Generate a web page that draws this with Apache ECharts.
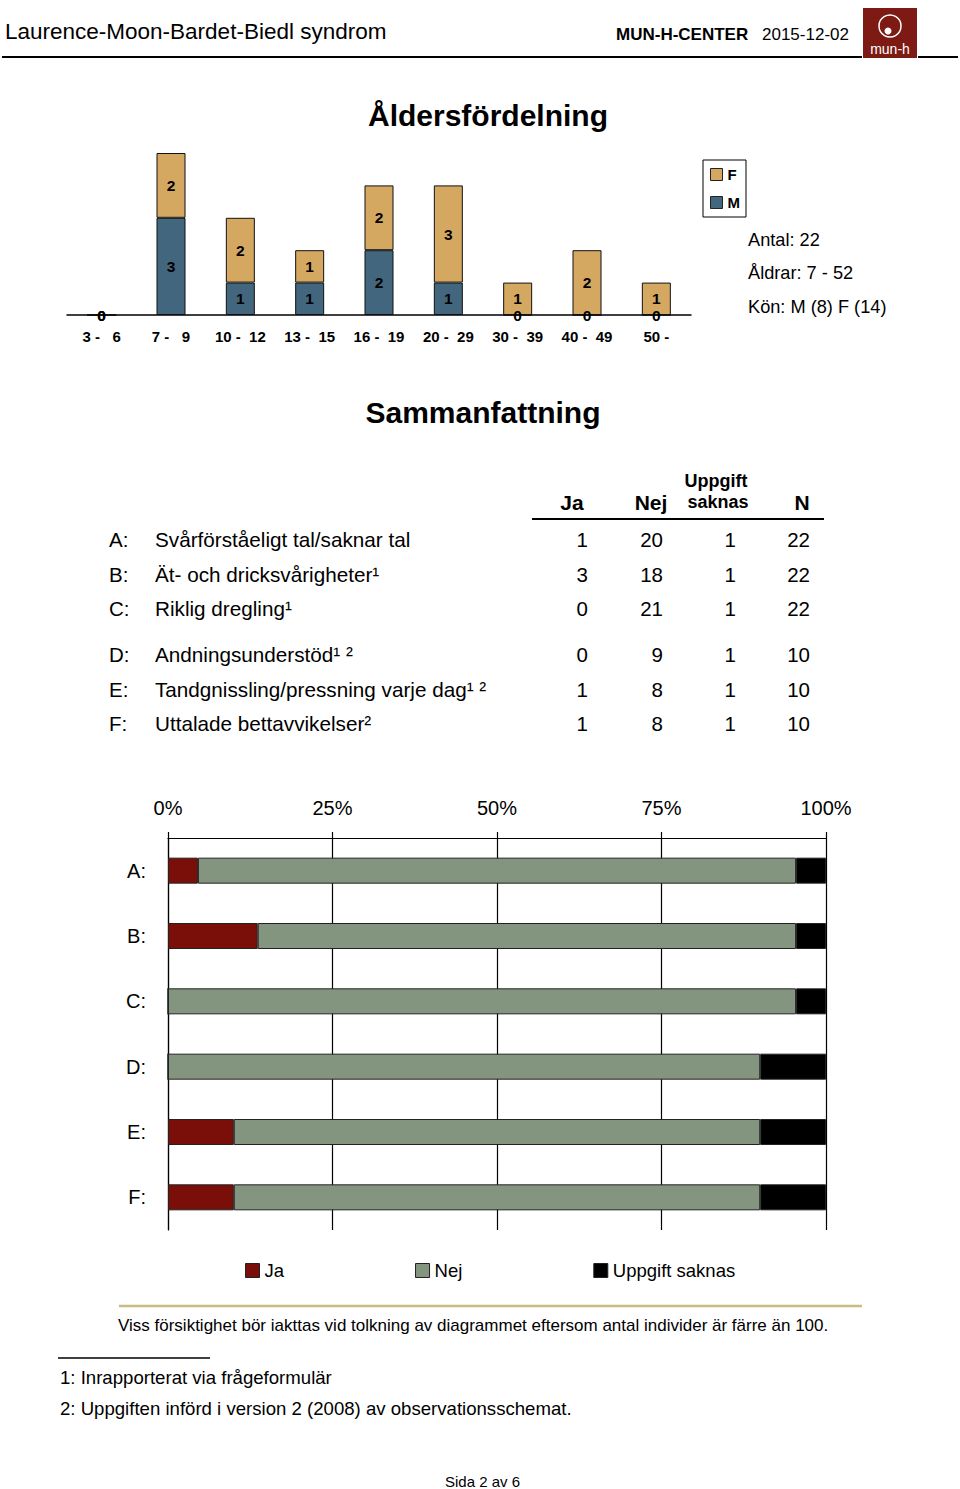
<!DOCTYPE html>
<html><head><meta charset="utf-8">
<script src="https://cdn.jsdelivr.net/npm/echarts@6/dist/echarts.min.js"></script>
<style>html,body{margin:0;padding:0;background:#fff;} #c{width:960px;height:1489px;}</style>
</head><body><div id="c"></div>
<script>
// ---- Data ----
const ageCategories = ['3 -   6','7 -   9','10 -  12','13 -  15','16 -  19','20 -  29','30 -  39','40 -  49','50 -'];
const maleCounts   = [0,3,1,1,2,1,0,0,0];
const femaleCounts = [0,2,2,1,2,3,1,2,1];
const ageInfo = ['Antal: 22','Åldrar: 7 - 52','Kön: M (8) F (14)'];

const rowLetters = ['A:','B:','C:','D:','E:','F:'];
const rowLabels = ['Svårförståeligt tal/saknar tal','Ät- och dricksvårigheter¹','Riklig dregling¹','Andningsunderstöd¹ ²','Tandgnissling/pressning varje dag¹ ²','Uttalade bettavvikelser²'];
const jaCounts     = [1,3,0,0,1,1];
const nejCounts    = [20,18,21,9,8,8];
const saknasCounts = [1,1,1,1,1,1];
const nCounts      = [22,22,22,10,10,10];
const seriesNames  = ['Ja','Nej','Uppgift saknas'];

const headerTitle = 'Laurence-Moon-Bardet-Biedl syndrom';
const footnotes = ['1: Inrapporterat via frågeformulär','2: Uppgiften införd i version 2 (2008) av observationsschemat.'];

// ---- Derived ----
const pct = (arr) => arr.map((v,i) => v / nCounts[i] * 100);
const FF = '"Liberation Sans", Arial, Helvetica, sans-serif';

const g = [];
function txt(x, y, text, size, opts) {
  opts = opts || {};
  g.push({type:'text', silent:true, style:{x:x, y:y, text:text, fill:opts.fill||'#000',
    font:(opts.bold?'bold ':'') + size + 'px ' + FF, textAlign:opts.align||'left', textVerticalAlign:'middle'}});
}
function line(x1,y1,x2,y2,w,c){
  g.push({type:'line', silent:true, shape:{x1:x1,y1:y1,x2:x2,y2:y2}, style:{stroke:c||'#000', lineWidth:w}});
}

// header
txt(5, 31, headerTitle, 22.5);
txt(616, 34, 'MUN-H-CENTER', 17, {bold:true});
txt(762, 34, '2015-12-02', 17);
line(2, 57, 862, 57, 2);
line(918, 57, 958, 57, 2);
g.push({type:'rect', silent:true, shape:{x:863,y:8,width:54,height:50}, style:{fill:'#7D1A14'}});
g.push({type:'circle', silent:true, shape:{cx:890,cy:26,r:11}, style:{fill:'none', stroke:'#fff', lineWidth:1.5}});
g.push({type:'circle', silent:true, shape:{cx:888,cy:31,r:3.5}, style:{fill:'#fff'}});
txt(890, 49, 'mun-h', 14, {fill:'#fff', align:'center'});

// titles
txt(488, 115, 'Åldersfördelning', 30, {bold:true, align:'center'});
txt(483, 412, 'Sammanfattning', 30, {bold:true, align:'center'});

// age info
const infoY = [240, 273, 307];
ageInfo.forEach((t,i) => txt(748, infoY[i], t, 18.2));

// table header
txt(572, 502, 'Ja', 21, {bold:true, align:'center'});
txt(651, 502, 'Nej', 21, {bold:true, align:'center'});
txt(716, 481, 'Uppgift', 18, {bold:true, align:'center'});
txt(718, 502, 'saknas', 18, {bold:true, align:'center'});
txt(802, 502, 'N', 21, {bold:true, align:'center'});
line(532, 519, 824, 519, 2);

const rowY = [539, 574, 608, 654, 689, 723];
rowLetters.forEach((l,i) => {
  txt(109, rowY[i], l, 20.5);
  txt(155, rowY[i], rowLabels[i], 20.7);
  txt(588, rowY[i], String(jaCounts[i]), 20.5, {align:'right'});
  txt(663, rowY[i], String(nejCounts[i]), 20.5, {align:'right'});
  txt(736, rowY[i], String(saknasCounts[i]), 20.5, {align:'right'});
  txt(810, rowY[i], String(nCounts[i]), 20.5, {align:'right'});
});

// notes
line(119, 1306, 862, 1306, 2.5, '#C9BC83');
txt(118, 1325, 'Viss försiktighet bör iakttas vid tolkning av diagrammet eftersom antal individer är färre än 100.', 17);
line(58, 1358, 210, 1358, 1.5);
txt(60, 1377, footnotes[0], 18.6);
txt(60, 1408, footnotes[1], 18.6);
txt(445, 1481, 'Sida 2 av 6', 15);

const chart = echarts.init(document.getElementById('c'), null, {renderer:'svg', width:960, height:1489});
const barLabel = {show:true, position:'inside', color:'#000', fontWeight:'bold', fontSize:15.5, fontFamily:FF};
const hColors = ['#7A0F0A','#84957F','#000000'];
const hData = [pct(jaCounts), pct(nejCounts), pct(saknasCounts)];

chart.setOption({
  animation:false,
  backgroundColor:'#fff',
  textStyle:{fontFamily:FF},
  grid:[
    {left:67, top:153, width:624, height:162},
    {left:168, top:838, width:658, height:392}
  ],
  xAxis:[
    {gridIndex:0, type:'category', data:ageCategories,
     axisLine:{lineStyle:{color:'#000', width:1.5}},
     axisTick:{length:5, lineStyle:{color:'#000', width:1.5}},
     axisLabel:{color:'#000', fontWeight:'bold', fontSize:15, margin:14, interval:0, fontFamily:FF}},
    {gridIndex:1, type:'value', position:'top', min:0, max:100, interval:25,
     axisLine:{show:true, lineStyle:{color:'#000', width:1.2}},
     axisTick:{show:true, length:6, lineStyle:{color:'#000', width:1.2}},
     axisLabel:{formatter:'{value}%', fontSize:20, color:'#000', margin:20, fontFamily:FF},
     splitLine:{show:true, lineStyle:{color:'#000', width:1.2}}}
  ],
  yAxis:[
    {gridIndex:0, type:'value', min:0, max:5, show:false},
    {gridIndex:1, type:'category', data:rowLetters, inverse:true,
     axisLine:{lineStyle:{color:'#000', width:1.2}},
     axisTick:{length:7, lineStyle:{color:'#000', width:1.2}},
     axisLabel:{fontSize:20, color:'#000', margin:22, fontFamily:FF}}
  ],
  legend:[
    {data:['F','M'], orient:'vertical', left:703, top:160, padding:[7,6,7,7], itemGap:13,
     itemWidth:12, itemHeight:12, icon:'rect', borderColor:'#000', borderWidth:1, selectedMode:false,
     itemStyle:{borderColor:'#222', borderWidth:1},
     textStyle:{fontWeight:'bold', fontSize:15, color:'#000', fontFamily:FF}},
    {data:seriesNames, orient:'horizontal', left:240, top:1256, itemGap:131,
     itemWidth:14, itemHeight:14, icon:'rect', selectedMode:false,
     itemStyle:{borderColor:'#222', borderWidth:1},
     textStyle:{fontSize:18.5, color:'#000', fontFamily:FF}}
  ],
  series:[
    {name:'M', type:'bar', xAxisIndex:0, yAxisIndex:0, stack:'age', data:maleCounts, barWidth:29,
     itemStyle:{color:'#43667F', borderColor:'#111', borderWidth:1}, label:barLabel},
    {name:'F', type:'bar', xAxisIndex:0, yAxisIndex:0, stack:'age', data:femaleCounts, barWidth:29,
     itemStyle:{color:'#D5A862', borderColor:'#111', borderWidth:1}, label:barLabel}
  ].concat(seriesNames.map((n,i) => ({
    name:n, type:'bar', xAxisIndex:1, yAxisIndex:1, stack:'pct', data:hData[i], barWidth:26,
    itemStyle:{color:hColors[i], borderColor:'#222', borderWidth:1}
  }))),
  graphic:{elements:g}
});
</script></body></html>
